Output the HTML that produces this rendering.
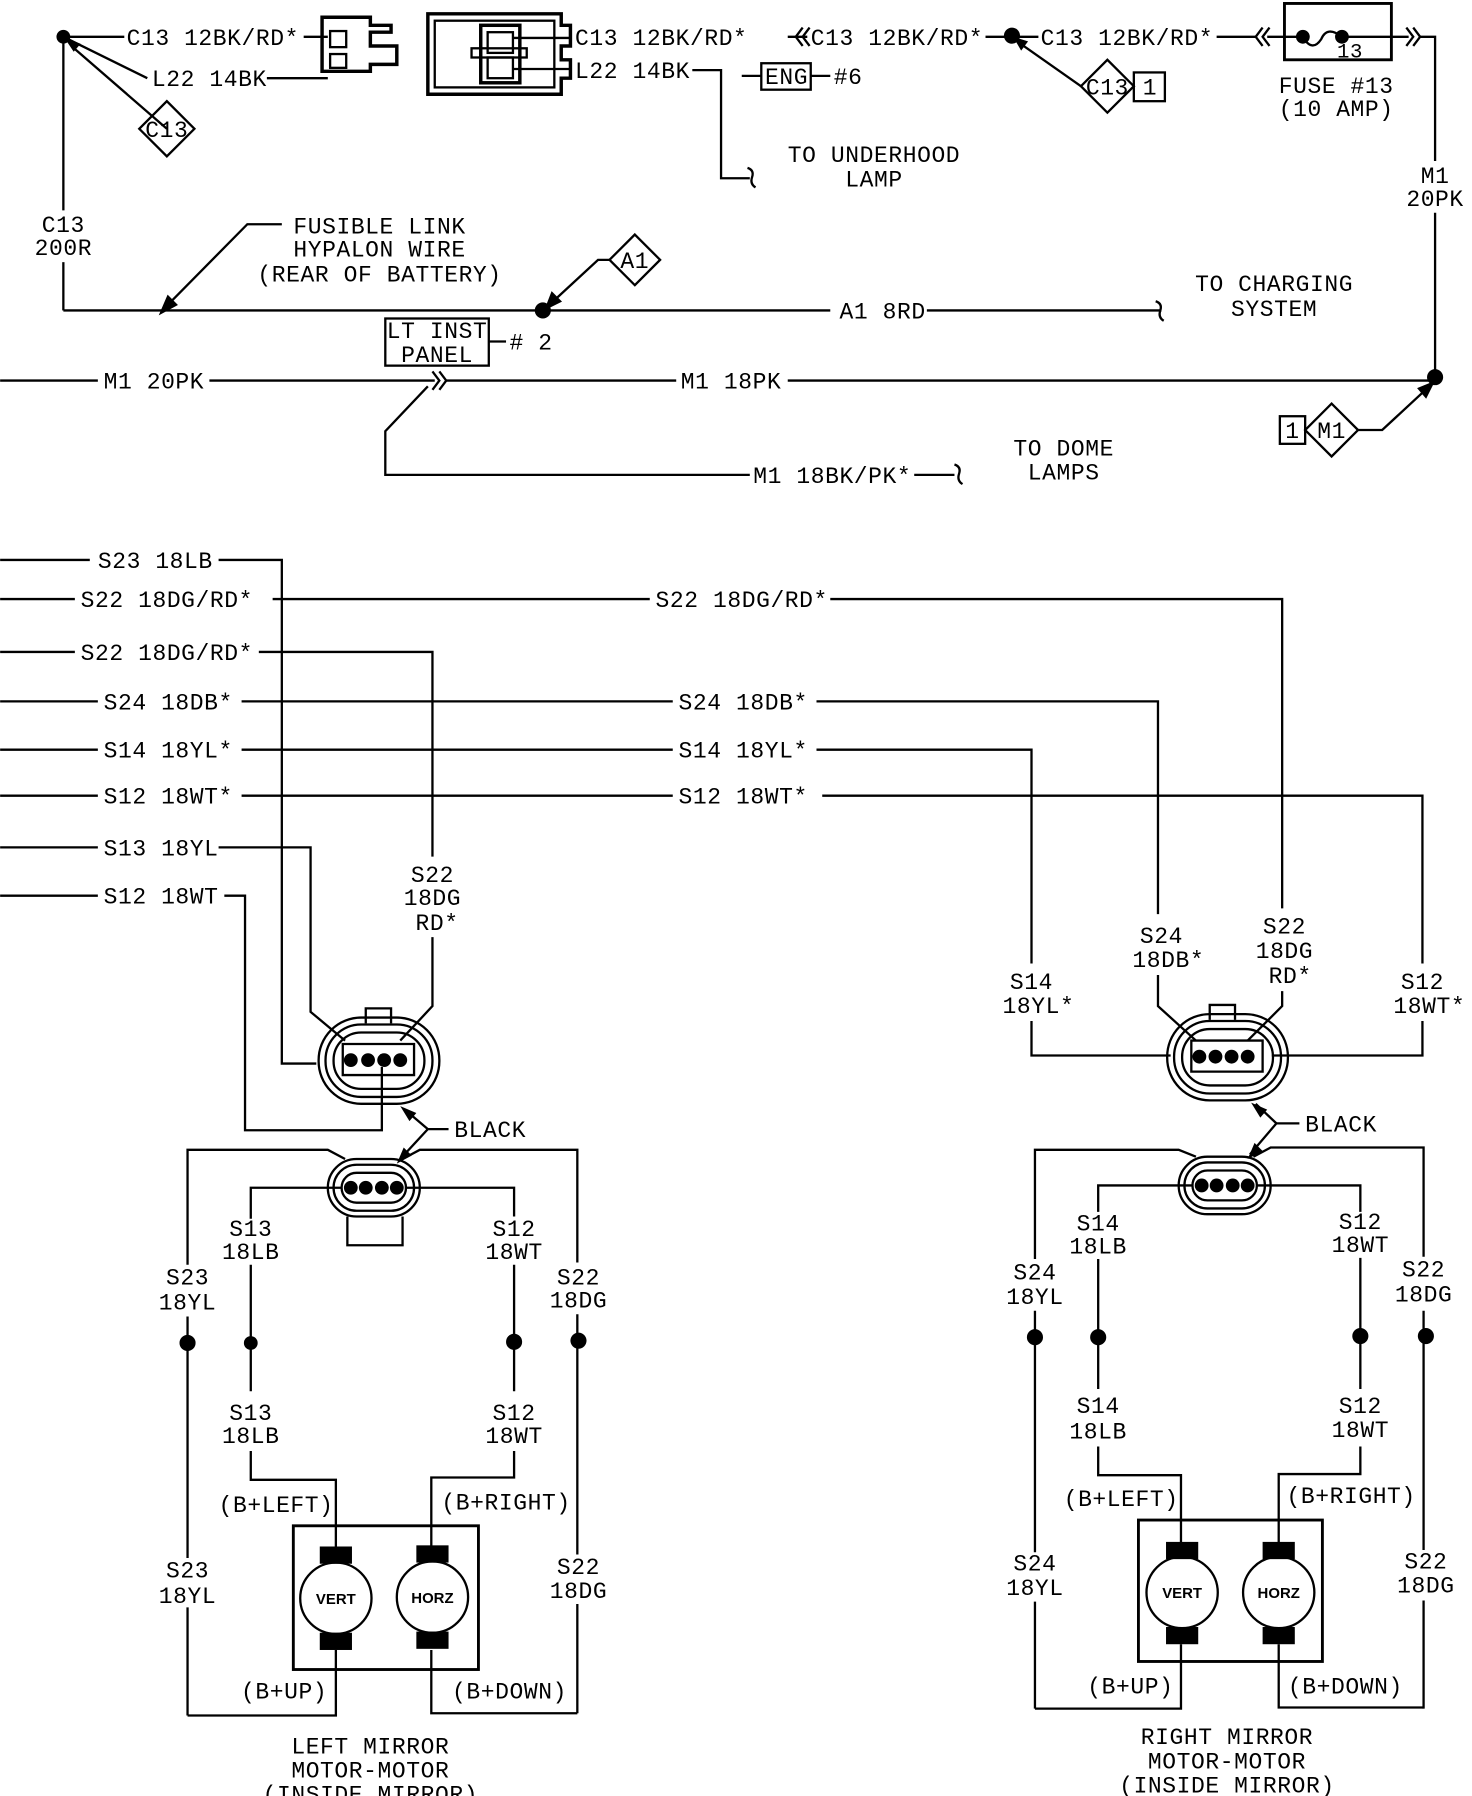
<!DOCTYPE html>
<html><head><meta charset="utf-8"><style>
html,body{margin:0;padding:0;background:#fff;}
svg{display:block;}
text{font-family:"Liberation Mono",monospace;font-size:20px;fill:#000;letter-spacing:0.5px;}
.c{text-anchor:middle;}
.s{font-family:"Liberation Sans",sans-serif;font-size:13px;font-weight:bold;text-anchor:middle;letter-spacing:0;}
</style></head><body>
<svg width="1472" height="1796" viewBox="0 0 1280 1562" xmlns="http://www.w3.org/2000/svg">
<g stroke="#000" stroke-width="2" fill="none">
<line x1="55" y1="32" x2="108" y2="32"/><line x1="264" y1="32" x2="285" y2="32"/>
<polyline points="55,32 128,68"/><line x1="232" y1="68" x2="285" y2="68"/>
<line x1="145" y1="112" x2="62" y2="40"/>
<path d="M121,112 L145,88 L169,112 L145,136 Z"/>
<path d="M280,15 H322 V22 H340 V28 H322 V40 H345 V56 H322 V62 H280 Z" stroke-width="3"/>
<rect x="287" y="27" width="14" height="14"/><rect x="287" y="47" width="14" height="12"/>
<line x1="55" y1="32" x2="55" y2="183"/><line x1="55" y1="228" x2="55" y2="270"/>
<line x1="55" y1="270" x2="722" y2="270"/><line x1="806" y1="270" x2="1010" y2="270"/>
<path d="M1005,262 q6,2 4,8 q-2,6 3,9"/>
<polyline points="245,195 215,195 145,266"/>
<polygon points="140,272 146,258 153,265" fill="#000"/>
<path d="M530,226 L552,204 L574,226 L552,248 Z"/>
<polyline points="530,226 520,226 480,263"/>
<polygon points="475,268 480,255 487,262" fill="#000"/>
<rect x="335" y="277" width="90" height="41"/><line x1="425" y1="297" x2="440" y2="297"/>
<path d="M372,12 H488 V22 H496 V40 H488 V52 H496 V68 H488 V82 H372 Z" stroke-width="3"/>
<rect x="378" y="18" width="104" height="58"/>
<rect x="418" y="22" width="34" height="50" stroke-width="3"/>
<rect x="424" y="28" width="22" height="18"/><rect x="424" y="50" width="22" height="18"/>
<rect x="410" y="42" width="48" height="8"/>
<line x1="446" y1="33" x2="497" y2="33"/><line x1="446" y1="60" x2="497" y2="60"/>
<line x1="685" y1="32" x2="702" y2="32"/>
<path d="M698,24 l-6,8 l6,8 M704,24 l-6,8 l6,8"/>
<line x1="857" y1="32" x2="903" y2="32"/>
<line x1="1058" y1="32" x2="1092" y2="32"/>
<path d="M1098,24 l-6,8 l6,8 M1104,24 l-6,8 l6,8"/>
<line x1="1102" y1="32" x2="1117" y2="32"/>
<rect x="1117" y="3" width="93" height="49" stroke-width="2.5"/>
<line x1="1117" y1="32" x2="1133" y2="32"/><line x1="1167" y1="32" x2="1210" y2="32"/>
<path d="M1133,32 q8,14 16,2 q5,-12 18,-2"/>
<line x1="1210" y1="32" x2="1225" y2="32"/>
<path d="M1223,24 l6,8 l-6,8 M1229,24 l6,8 l-6,8"/>
<polyline points="1235,32 1248,32 1248,140"/><line x1="1248" y1="185" x2="1248" y2="327"/>
<polyline points="602,61 627,61 627,155 652,155"/>
<path d="M650,146 q6,2 4,8 q-2,6 3,9"/>
<rect x="662" y="55" width="43" height="23"/>
<line x1="645" y1="66" x2="662" y2="66"/><line x1="705" y1="66" x2="722" y2="66"/>
<path d="M940,75 L963,52 L986,75 L963,98 Z"/>
<rect x="986" y="63" width="27" height="25"/>
<line x1="940" y1="75" x2="886" y2="37"/>
<line x1="0" y1="331" x2="85" y2="331"/><line x1="182" y1="331" x2="378" y2="331"/>
<path d="M376,323 l6,8 l-6,8 M382,323 l6,8 l-6,8"/>
<line x1="388" y1="331" x2="588" y2="331"/><line x1="685" y1="331" x2="1248" y2="331"/>
<polyline points="372,336 335,375 335,413 652,413"/>
<line x1="795" y1="413" x2="830" y2="413"/>
<path d="M830,404 q6,2 4,8 q-2,6 3,9"/>
<path d="M1135,374 L1158,351 L1181,374 L1158,397 Z"/>
<rect x="1113" y="362" width="22" height="24"/>
<polyline points="1181,374 1202,374 1243,336"/>
<polygon points="1246,333 1234,338 1240,345" fill="#000"/>
<line x1="0" y1="487" x2="78" y2="487"/><polyline points="190,487 245,487 245,925 275,925"/>
<line x1="0" y1="521" x2="65" y2="521"/><line x1="237" y1="521" x2="565" y2="521"/>
<polyline points="722,521 1115,521 1115,790"/>
<line x1="0" y1="567" x2="65" y2="567"/><polyline points="225,567 376,567 376,745"/>
<polyline points="376,815 376,875 348,905"/>
<line x1="0" y1="610" x2="85" y2="610"/><line x1="210" y1="610" x2="585" y2="610"/>
<polyline points="710,610 1007,610 1007,795"/>
<polyline points="1007,848 1007,875 1040,905"/>
<polyline points="1115,862 1115,875 1085,905"/>
<line x1="0" y1="652" x2="85" y2="652"/><line x1="210" y1="652" x2="585" y2="652"/>
<polyline points="710,652 897,652 897,838"/>
<polyline points="897,888 897,918 1018,918"/>
<line x1="0" y1="692" x2="85" y2="692"/><line x1="210" y1="692" x2="585" y2="692"/>
<polyline points="715,692 1237,692 1237,838"/>
<polyline points="1237,888 1237,918 1106,918"/>
<line x1="0" y1="737" x2="85" y2="737"/><polyline points="190,737 270,737 270,880 300,905"/>
<line x1="0" y1="779" x2="85" y2="779"/><polyline points="195,779 213,779 213,983 332,983 332,928"/>
</g>

<g stroke="#000" stroke-width="2" fill="none">
<rect x="277" y="885" width="105" height="75" rx="37"/>
<rect x="283" y="891" width="93" height="63" rx="31"/>
<rect x="290" y="898" width="79" height="49" rx="24"/>
<path d="M318,890 V877 H340 V890"/>
<path d="M298,908 H360 V935 H298 Z"/>
<rect x="285" y="1008" width="80" height="50" rx="25"/>
<rect x="290" y="1013" width="70" height="40" rx="20"/>
<rect x="297" y="1020" width="56" height="26" rx="13"/>
<path d="M302,1058 V1083 H350 V1058"/>
<polyline points="300,1008 285,1000 163,1000 163,1100"/>
<polyline points="350,1008 365,1000 502,1000 502,1098"/>
<line x1="163" y1="1145" x2="163" y2="1355"/><line x1="163" y1="1398" x2="163" y2="1492"/>
<line x1="502" y1="1143" x2="502" y2="1352"/><line x1="502" y1="1395" x2="502" y2="1490"/>
<polyline points="297,1033 218,1033 218,1060"/><line x1="218" y1="1100" x2="218" y2="1210"/>
<polyline points="352,1033 447,1033 447,1058"/><line x1="447" y1="1100" x2="447" y2="1210"/>
<polyline points="218,1262 218,1287 292,1287 292,1348"/>
<polyline points="447,1262 447,1285 375,1285 375,1348"/>
<rect x="255" y="1327" width="161" height="125" stroke-width="2.5"/>
<circle cx="292" cy="1390" r="31"/><circle cx="376" cy="1389" r="31"/>
<polyline points="292,1435 292,1492 163,1492"/>
<polyline points="375,1435 375,1490 502,1490"/>
<polyline points="390,982 372,982 348,1008"/>
<line x1="372" y1="982" x2="352" y2="965"/>
</g>
<g fill="#000">
<circle cx="163" cy="1168" r="7"/><circle cx="218" cy="1168" r="6"/><circle cx="447" cy="1167" r="7"/><circle cx="503" cy="1166" r="7"/>
<rect x="278" y="1345" width="28" height="15"/><rect x="278" y="1420" width="28" height="15"/>
<rect x="362" y="1344" width="28" height="15"/><rect x="362" y="1419" width="28" height="15"/>
<circle cx="305" cy="922" r="6"/><circle cx="320" cy="922" r="6"/><circle cx="334" cy="922" r="6"/><circle cx="348" cy="922" r="6"/>
<circle cx="305" cy="1033" r="6"/><circle cx="318" cy="1033" r="6"/><circle cx="332" cy="1033" r="6"/><circle cx="345" cy="1033" r="6"/>
<polygon points="348,962 362,968 356,975"/><polygon points="345,1012 351,998 358,1005"/>
<circle cx="55" cy="32" r="6"/><circle cx="472" cy="270" r="7"/><circle cx="880" cy="31" r="7"/><circle cx="1248" cy="328" r="7"/>
<circle cx="1133" cy="32" r="6"/><circle cx="1167" cy="32" r="6"/>
<polygon points="56,33 70,38 64,45"/><polygon points="881,32 894,36 888,44"/>
</g>

<g stroke="#000" stroke-width="2" fill="none">
<rect x="1015" y="882" width="105" height="75" rx="37"/>
<rect x="1021" y="888" width="93" height="63" rx="31"/>
<rect x="1028" y="895" width="79" height="49" rx="24"/>
<path d="M1052,887 V874 H1074 V887"/>
<path d="M1036,905 H1098 V932 H1036 Z"/>
<rect x="1025" y="1006" width="80" height="50" rx="25"/>
<rect x="1030" y="1011" width="70" height="40" rx="20"/>
<rect x="1037" y="1018" width="56" height="26" rx="13"/>
<polyline points="1040,1006 1025,1000 900,1000 900,1095"/>
<polyline points="1090,1006 1105,998 1238,998 1238,1093"/>
<line x1="900" y1="1140" x2="900" y2="1350"/><line x1="900" y1="1393" x2="900" y2="1486"/>
<line x1="1238" y1="1140" x2="1238" y2="1348"/><line x1="1238" y1="1392" x2="1238" y2="1486"/>
<polyline points="1037,1031 955,1031 955,1054"/><line x1="955" y1="1095" x2="955" y2="1208"/>
<polyline points="1093,1031 1183,1031 1183,1054"/><line x1="1183" y1="1094" x2="1183" y2="1208"/>
<polyline points="955,1258 955,1283 1027,1283 1027,1343"/>
<polyline points="1183,1258 1183,1282 1112,1282 1112,1343"/>
<rect x="990" y="1322" width="160" height="123" stroke-width="2.5"/>
<circle cx="1028" cy="1385" r="31"/><circle cx="1112" cy="1385" r="31"/>
<polyline points="1027,1430 1027,1486 900,1486"/>
<polyline points="1112,1430 1112,1485 1238,1485"/>
<polyline points="1130,977 1110,977 1087,1004"/>
<line x1="1110" y1="977" x2="1092" y2="960"/>
</g>
<g fill="#000">
<circle cx="900" cy="1163" r="7"/><circle cx="955" cy="1163" r="7"/><circle cx="1183" cy="1162" r="7"/><circle cx="1240" cy="1162" r="7"/>
<rect x="1014" y="1341" width="28" height="15"/><rect x="1014" y="1415" width="28" height="15"/>
<rect x="1098" y="1341" width="28" height="15"/><rect x="1098" y="1415" width="28" height="15"/>
<circle cx="1043" cy="919" r="6"/><circle cx="1057" cy="919" r="6"/><circle cx="1071" cy="919" r="6"/><circle cx="1085" cy="919" r="6"/>
<circle cx="1045" cy="1031" r="6"/><circle cx="1058" cy="1031" r="6"/><circle cx="1072" cy="1031" r="6"/><circle cx="1085" cy="1031" r="6"/>
<polygon points="1088,959 1102,965 1096,972"/><polygon points="1085,1008 1091,994 1098,1001"/>
</g>

<text x="110" y="39">C13 12BK/RD*</text>
<text x="132" y="75">L22 14BK</text>
<text class="c" x="145" y="119">C13</text>
<text class="c" x="55" y="202">C13</text><text class="c" x="55" y="222">200R</text>
<text class="c" x="330" y="203">FUSIBLE LINK</text>
<text class="c" x="330" y="223">HYPALON WIRE</text>
<text class="c" x="330" y="245">(REAR OF BATTERY)</text>
<text class="c" x="552" y="233">A1</text>
<text x="730" y="277">A1 8RD</text>
<text class="c" x="1108" y="253">TO CHARGING</text><text class="c" x="1108" y="275">SYSTEM</text>
<text class="c" x="380" y="294">LT INST</text><text class="c" x="380" y="315">PANEL</text>
<text x="443" y="304"># 2</text>
<text x="500" y="39">C13 12BK/RD*</text>
<text x="500" y="68">L22 14BK</text>
<text x="705" y="39">C13 12BK/RD*</text>
<text x="905" y="39">C13 12BK/RD*</text>
<text class="c" x="684" y="73">ENG</text><text x="725" y="73">#6</text>
<text class="c" x="963" y="82">C13</text><text class="c" x="1000" y="82">1</text>
<text class="c" x="1174" y="50" style="font-size:18px">13</text>
<text class="c" x="1162" y="81">FUSE #13</text><text class="c" x="1162" y="101">(10 AMP)</text>
<text class="c" x="1248" y="159">M1</text><text class="c" x="1248" y="179">20PK</text>
<text class="c" x="760" y="141">TO UNDERHOOD</text><text class="c" x="760" y="162">LAMP</text>
<text x="90" y="338">M1 20PK</text>
<text x="592" y="338">M1 18PK</text>
<text x="655" y="420">M1 18BK/PK*</text>
<text class="c" x="925" y="396">TO DOME</text><text class="c" x="925" y="417">LAMPS</text>
<text class="c" x="1158" y="381">M1</text><text class="c" x="1124" y="381">1</text>
<text x="85" y="494">S23 18LB</text>
<text x="70" y="528">S22 18DG/RD*</text>
<text x="570" y="528">S22 18DG/RD*</text>
<text x="70" y="574">S22 18DG/RD*</text>
<text x="90" y="617">S24 18DB*</text><text x="590" y="617">S24 18DB*</text>
<text x="90" y="659">S14 18YL*</text><text x="590" y="659">S14 18YL*</text>
<text x="90" y="699">S12 18WT*</text><text x="590" y="699">S12 18WT*</text>
<text x="90" y="744">S13 18YL</text>
<text x="90" y="786">S12 18WT</text>
<text class="c" x="376" y="767">S22</text><text class="c" x="376" y="787">18DG</text><text class="c" x="380" y="809">RD*</text>
<text class="c" x="1010" y="820">S24</text><text class="c" x="1016" y="841">18DB*</text>
<text class="c" x="1117" y="812">S22</text><text class="c" x="1117" y="833">18DG</text><text class="c" x="1122" y="855">RD*</text>
<text class="c" x="897" y="860">S14</text><text class="c" x="903" y="881">18YL*</text>
<text class="c" x="1237" y="860">S12</text><text class="c" x="1243" y="881">18WT*</text>
<text x="395" y="989">BLACK</text>
<text x="1135" y="984">BLACK</text>
<text class="c" x="218" y="1075">S13</text><text class="c" x="218" y="1095">18LB</text>
<text class="c" x="447" y="1075">S12</text><text class="c" x="447" y="1095">18WT</text>
<text class="c" x="163" y="1117">S23</text><text class="c" x="163" y="1139">18YL</text>
<text class="c" x="503" y="1117">S22</text><text class="c" x="503" y="1137">18DG</text>
<text class="c" x="218" y="1235">S13</text><text class="c" x="218" y="1255">18LB</text>
<text class="c" x="447" y="1235">S12</text><text class="c" x="447" y="1255">18WT</text>
<text class="c" x="240" y="1315">(B+LEFT)</text><text class="c" x="440" y="1313">(B+RIGHT)</text>
<text class="c" x="163" y="1372">S23</text><text class="c" x="163" y="1394">18YL</text>
<text class="c" x="503" y="1369">S22</text><text class="c" x="503" y="1390">18DG</text>
<text class="s" x="292" y="1395">VERT</text><text class="s" x="376" y="1394">HORZ</text>
<text class="c" x="247" y="1477">(B+UP)</text><text class="c" x="443" y="1477">(B+DOWN)</text>
<text class="c" x="322" y="1525">LEFT MIRROR</text><text class="c" x="322" y="1546">MOTOR-MOTOR</text><text class="c" x="322" y="1567">(INSIDE MIRROR)</text>
<text class="c" x="955" y="1070">S14</text><text class="c" x="955" y="1090">18LB</text>
<text class="c" x="1183" y="1069">S12</text><text class="c" x="1183" y="1089">18WT</text>
<text class="c" x="900" y="1113">S24</text><text class="c" x="900" y="1134">18YL</text>
<text class="c" x="1238" y="1110">S22</text><text class="c" x="1238" y="1132">18DG</text>
<text class="c" x="955" y="1229">S14</text><text class="c" x="955" y="1251">18LB</text>
<text class="c" x="1183" y="1229">S12</text><text class="c" x="1183" y="1250">18WT</text>
<text class="c" x="975" y="1310">(B+LEFT)</text><text class="c" x="1175" y="1307">(B+RIGHT)</text>
<text class="c" x="900" y="1366">S24</text><text class="c" x="900" y="1387">18YL</text>
<text class="c" x="1240" y="1364">S22</text><text class="c" x="1240" y="1385">18DG</text>
<text class="s" x="1028" y="1390">VERT</text><text class="s" x="1112" y="1390">HORZ</text>
<text class="c" x="983" y="1473">(B+UP)</text><text class="c" x="1170" y="1473">(B+DOWN)</text>
<text class="c" x="1067" y="1517">RIGHT MIRROR</text><text class="c" x="1067" y="1538">MOTOR-MOTOR</text><text class="c" x="1067" y="1559">(INSIDE MIRROR)</text>
</svg>
</body></html>
